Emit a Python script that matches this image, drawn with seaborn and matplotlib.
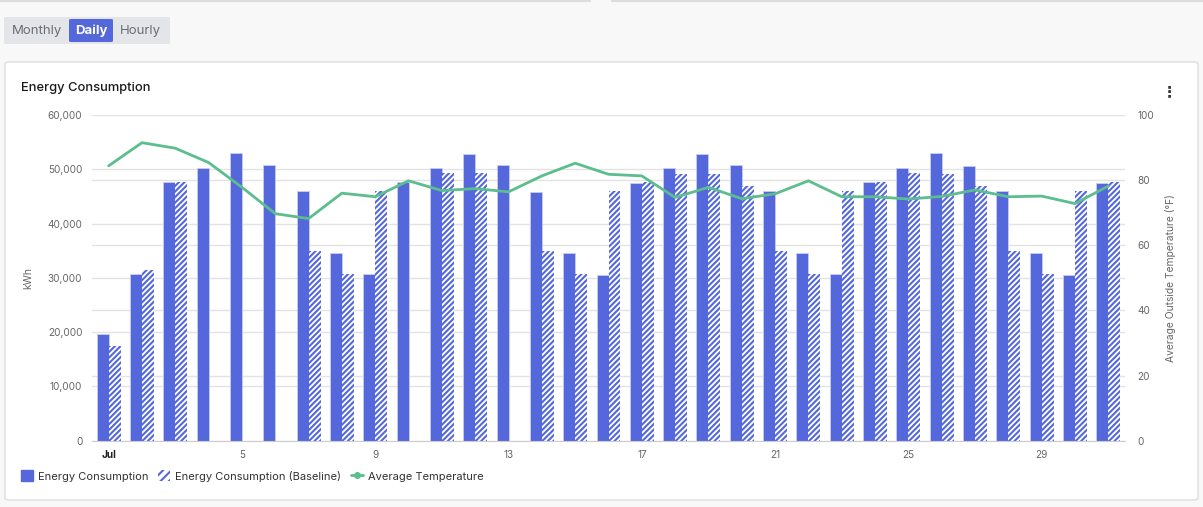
import numpy as np
import pandas as pd
import matplotlib
matplotlib.use("Agg")
import matplotlib.pyplot as plt
import seaborn as sns
from matplotlib.patches import FancyBboxPatch, Patch
from matplotlib.lines import Line2D

# data (July, daily)
days = list(range(1, 32))
energy = [19700, 30700, 47600, 50300, 52950, 50700, 46000, 34500, 30650, 47600,
          50200, 52800, 50700, 45800, 34500, 30450, 47500, 50300, 52750, 50700,
          45950, 34500, 30650, 47700, 50300, 52950, 50650, 46000, 34500, 30600, 47450]
baseline = [17500, 31400, 47600, np.nan, np.nan, np.nan, 35000, 30800, 46000, np.nan,
            49250, 49250, np.nan, 34950, 30700, 46050, 47650, 49200, 49200, 46850,
            34950, 30700, 46050, 47700, 49250, 49200, 46850, 34950, 30650, 46050, 47600]
temperature = [84.4, 91.5, 89.8, 85.4, 77.8, 69.7, 68.2, 76.0, 74.9, 79.8,
               76.8, 77.4, 76.4, 81.3, 85.2, 81.8, 81.3, 74.7, 77.8, 74.3,
               75.8, 79.8, 74.9, 74.9, 74.2, 75.0, 77.0, 74.9, 75.1, 72.8, 78.2]
tick_days = [1, 5, 9, 13, 17, 21, 25, 29]
tick_labels = ["Jul", "5", "9", "13", "17", "21", "25", "29"]
kwh_ticks = [0, 10000, 20000, 30000, 40000, 50000, 60000]
temp_ticks = [0, 20, 40, 60, 80, 100]

BLUE = "#5468db"
GREEN = "#5cbd8e"
GRID = "#e3e3e3"
TXT = "#666666"

sns.set_style("white")
plt.rcParams["font.family"] = ["Inter", "DejaVu Sans"]
plt.rcParams["hatch.linewidth"] = 1.5

df = pd.DataFrame({
    "day": days * 2,
    "kwh": energy + baseline,
    "series": ["Energy Consumption"] * 31 + ["Energy Consumption (Baseline)"] * 31,
})

W, H = 1203, 507
fig = plt.figure(figsize=(W / 100, H / 100), dpi=100)
fig.patch.set_facecolor("#f8f8f9")

# card behind the chart
card = FancyBboxPatch((5 / W, 7 / H), 1193 / W, 438 / H,
                      boxstyle="round,pad=0,rounding_size=0.004",
                      transform=fig.transFigure, fc="white", ec="#dddddd", lw=1, zorder=-5)
fig.add_artist(card)

# top strips of cards above
fig.add_artist(Line2D([0, 590 / W], [1 - 1 / H] * 2, color="#dddddd", lw=1.5, transform=fig.transFigure))
fig.add_artist(Line2D([612 / W, 1], [1 - 1 / H] * 2, color="#dddddd", lw=1.5, transform=fig.transFigure))

# period toggle
fig.add_artist(FancyBboxPatch((4 / W, (H - 44) / H), 166 / W, 27 / H,
                              boxstyle="round,pad=0,rounding_size=0.002",
                              transform=fig.transFigure, fc="#e4e5e8", ec="none"))
fig.add_artist(FancyBboxPatch((69 / W, (H - 42) / H), 44 / W, 23 / H,
                              boxstyle="round,pad=0,rounding_size=0.002",
                              transform=fig.transFigure, fc=BLUE, ec="none"))
fig.text(37 / W, 1 - 31 / H, "Monthly", ha="center", va="center", fontsize=9.5, color="#6b6e75")
fig.text(91 / W, 1 - 31 / H, "Daily", ha="center", va="center", fontsize=9.5, color="white", fontweight="bold")
fig.text(140 / W, 1 - 31 / H, "Hourly", ha="center", va="center", fontsize=9.5, color="#6b6e75")

fig.text(21 / W, 1 - 88 / H, "Energy Consumption", ha="left", va="center", fontsize=9.3,
         color="#1a1a1a", fontweight="medium")
fig.text(1169 / W, 1 - 92 / H, "\u22ee", ha="center", va="center", fontsize=11,
         color="#333333", family=["DejaVu Sans"], fontweight="bold")

ax = fig.add_axes([92 / W, 66.3 / H, 1033 / W, 325.7 / H])
ax.patch.set_alpha(0)

sns.barplot(data=df, x="day", y="kwh", hue="series", ax=ax, width=0.72,
            palette=[BLUE, BLUE], dodge=True, legend=False, errorbar=None,
            saturation=1)

for bar in ax.containers[0]:
    bar.set_edgecolor("#c7cdf4")
    bar.set_linewidth(0.6)
for bar in ax.containers[1]:
    bar.set_facecolor("white")
    bar.set_edgecolor(BLUE)
    bar.set_hatch("//////")
    bar.set_linewidth(0)

ax.set_xlim(-0.5, 30.5)
ax.set_ylim(0, 60000)
ax.set_yticks(kwh_ticks)
ax.set_yticklabels([f"{v:,}" for v in kwh_ticks])
# temperature gridlines share the same pixel rows
ax.set_yticks([t / 100 * 60000 for t in temp_ticks], minor=True)
ax.grid(axis="y", which="both", color=GRID, lw=1)
ax.set_axisbelow(True)
ax.tick_params(axis="y", which="both", length=0, labelsize=7.2, labelcolor=TXT, pad=7)

ax.set_xticks([d - 1 for d in tick_days])
ax.set_xticklabels(tick_labels)
ax.tick_params(axis="x", length=4, color="#bbbbbb", labelsize=7.2, labelcolor=TXT, pad=3)
ax.get_xticklabels()[0].set_fontweight("bold")
ax.get_xticklabels()[0].set_color("#222222")
ax.set_xlabel("")
ax.set_ylabel("kWh", fontsize=7.5, color=TXT)
ax.yaxis.set_label_coords(-0.057, 0.5)
for s in ["top", "right", "left"]:
    ax.spines[s].set_visible(False)
ax.spines["bottom"].set_color("#cccccc")

ax2 = ax.twinx()
sns.lineplot(x=[d - 1 for d in days], y=temperature, ax=ax2, color=GREEN, lw=2)
ax2.set_ylim(0, 100)
ax2.set_yticks(temp_ticks)
ax2.tick_params(axis="y", length=0, labelsize=7.2, labelcolor=TXT, pad=9)
ax2.set_ylabel("Average Outside Temperature (\u00b0F)", fontsize=7.4, color=TXT)
ax2.yaxis.set_label_coords(1.039, 0.5)
ax2.grid(False)
for s in ax2.spines.values():
    s.set_visible(False)

handles = [
    Patch(facecolor=BLUE, edgecolor=BLUE, label="Energy Consumption"),
    Patch(facecolor="white", edgecolor=BLUE, hatch="////", lw=0, label="Energy Consumption (Baseline)"),
    Line2D([], [], color=GREEN, lw=2, marker="o", markersize=4, label="Average Temperature"),
]
fig.legend(handles=handles, loc="center left", bbox_to_anchor=(11 / W, 1 - 476 / H),
           ncol=3, frameon=False, fontsize=8, handlelength=1.1, handleheight=1.1,
           handletextpad=0.4, columnspacing=0.9, labelcolor="#333333")

fig.savefig("out.png", dpi=100, facecolor=fig.get_facecolor())
